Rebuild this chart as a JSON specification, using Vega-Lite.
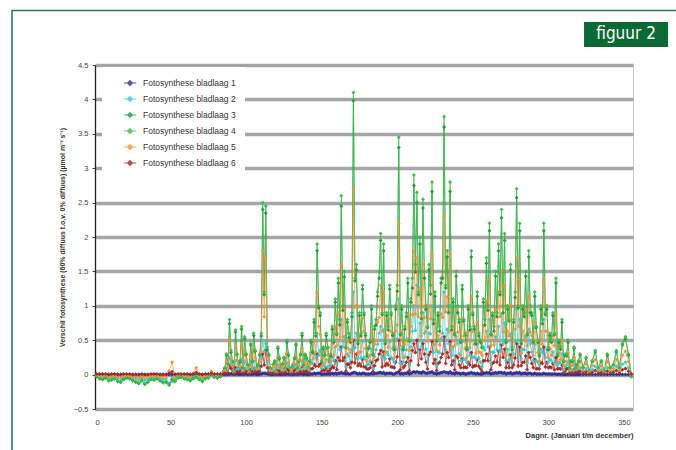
{
  "$schema": "https://vega.github.io/schema/vega-lite/v6.json",
  "width": 538,
  "height": 344,
  "autosize": {"type": "none"},
  "padding": {"left": 95, "top": 65, "right": 43, "bottom": 41},
  "background": "white",
  "config": {
    "view": {"stroke": "#c8c8c8", "strokeWidth": 1},
    "font": "Liberation Sans",
    "axisY": {"labelOverlap": false, "labelFlush": false}
  },
  "datasets": {
    "foto": [
      {"d":1,"1":0,"2":-0.01,"3":-0.03,"4":-0.02,"5":0,"6":0.01},
      {"d":3,"1":0,"2":-0.03,"3":-0.06,"4":-0.05,"5":-0.02,"6":0.01},
      {"d":5,"1":0,"2":-0.04,"3":-0.07,"4":-0.06,"5":-0.02,"6":0.01},
      {"d":7,"1":0,"2":-0.02,"3":-0.05,"4":-0.04,"5":-0.01,"6":0.01},
      {"d":9,"1":0,"2":-0.05,"3":-0.09,"4":-0.08,"5":-0.03,"6":0},
      {"d":11,"1":0,"2":-0.04,"3":-0.08,"4":-0.07,"5":-0.02,"6":0.01},
      {"d":13,"1":0,"2":-0.03,"3":-0.06,"4":-0.05,"5":-0.02,"6":0.01},
      {"d":15,"1":0,"2":-0.05,"3":-0.1,"4":-0.09,"5":-0.03,"6":0},
      {"d":17,"1":0,"2":-0.06,"3":-0.11,"4":-0.1,"5":-0.03,"6":0},
      {"d":19,"1":0,"2":-0.04,"3":-0.07,"4":-0.06,"5":-0.02,"6":0.01},
      {"d":21,"1":0,"2":-0.02,"3":-0.05,"4":-0.04,"5":-0.01,"6":0.01},
      {"d":23,"1":0,"2":-0.03,"3":-0.06,"4":-0.05,"5":-0.02,"6":0.01},
      {"d":25,"1":0,"2":-0.05,"3":-0.09,"4":-0.08,"5":-0.03,"6":0},
      {"d":27,"1":0,"2":-0.06,"3":-0.11,"4":-0.1,"5":-0.03,"6":0},
      {"d":29,"1":0,"2":-0.07,"3":-0.13,"4":-0.12,"5":-0.04,"6":0},
      {"d":31,"1":0,"2":-0.05,"3":-0.09,"4":-0.08,"5":-0.03,"6":0.01},
      {"d":33,"1":0,"2":-0.08,"3":-0.14,"4":-0.13,"5":-0.04,"6":0},
      {"d":35,"1":0,"2":-0.06,"3":-0.11,"4":-0.1,"5":-0.03,"6":0},
      {"d":37,"1":0,"2":-0.04,"3":-0.07,"4":-0.06,"5":-0.02,"6":0.01},
      {"d":39,"1":0,"2":-0.04,"3":-0.08,"4":-0.07,"5":-0.02,"6":0.01},
      {"d":41,"1":0,"2":-0.03,"3":-0.06,"4":-0.05,"5":-0.02,"6":0.01},
      {"d":43,"1":0,"2":-0.05,"3":-0.09,"4":-0.08,"5":-0.03,"6":0},
      {"d":45,"1":0,"2":-0.07,"3":-0.12,"4":-0.11,"5":-0.03,"6":0},
      {"d":47,"1":0,"2":-0.06,"3":-0.11,"4":-0.1,"5":-0.03,"6":0},
      {"d":49,"1":0,"2":-0.13,"3":-0.15,"4":-0.14,"5":0.05,"6":0.02},
      {"d":51,"1":0,"2":-0.1,"3":-0.07,"4":-0.06,"5":0.18,"6":0.04},
      {"d":53,"1":0,"2":-0.05,"3":-0.1,"4":-0.09,"5":-0.03,"6":0},
      {"d":55,"1":0,"2":-0.02,"3":-0.05,"4":-0.04,"5":-0.01,"6":0.01},
      {"d":57,"1":0,"2":-0.02,"3":-0.04,"4":-0.03,"5":0,"6":0.01},
      {"d":59,"1":0,"2":-0.03,"3":-0.06,"4":-0.05,"5":-0.02,"6":0.01},
      {"d":61,"1":0,"2":-0.04,"3":-0.07,"4":-0.06,"5":-0.02,"6":0.01},
      {"d":63,"1":0,"2":-0.05,"3":-0.09,"4":-0.08,"5":-0.03,"6":0},
      {"d":65,"1":0,"2":-0.03,"3":-0.06,"4":-0.05,"5":0.02,"6":0.01},
      {"d":67,"1":0,"2":-0.02,"3":-0.04,"4":-0.03,"5":0.1,"6":0.03},
      {"d":69,"1":0,"2":-0.04,"3":-0.07,"4":-0.06,"5":-0.02,"6":0.01},
      {"d":71,"1":0,"2":-0.05,"3":-0.1,"4":-0.09,"5":-0.03,"6":0},
      {"d":73,"1":0,"2":-0.03,"3":-0.06,"4":-0.05,"5":-0.02,"6":0.01},
      {"d":75,"1":0,"2":-0.02,"3":-0.05,"4":-0.04,"5":-0.01,"6":0.01},
      {"d":77,"1":0,"2":0.01,"3":0.02,"4":0.02,"5":0.05,"6":0.02},
      {"d":79,"1":0,"2":-0.02,"3":-0.04,"4":-0.03,"5":0,"6":0.01},
      {"d":81,"1":0,"2":-0.02,"3":-0.05,"4":-0.04,"5":-0.01,"6":0.01},
      {"d":83,"1":0,"2":-0.01,"3":-0.03,"4":-0.02,"5":0.01,"6":0.01},
      {"d":85,"1":0,"2":0.02,"3":0.05,"4":0.05,"5":0.04,"6":0.02},
      {"d":87,"1":0.01,"2":0.1,"3":0.28,"4":0.3,"5":0.19,"6":0.05},
      {"d":89,"1":0.01,"2":0.25,"3":0.74,"4":0.8,"5":0.5,"6":0.12},
      {"d":91,"1":0.01,"2":0.07,"3":0.19,"4":0.2,"5":0.13,"6":0.03},
      {"d":93,"1":0.01,"2":0.2,"3":0.62,"4":0.65,"5":0.42,"6":0.1},
      {"d":95,"1":0,"2":0.03,"3":0.1,"4":0.1,"5":0.07,"6":0.02},
      {"d":97,"1":0.01,"2":0.22,"3":0.66,"4":0.7,"5":0.45,"6":0.1},
      {"d":99,"1":0.01,"2":0.18,"3":0.52,"4":0.55,"5":0.35,"6":0.08},
      {"d":101,"1":0,"2":0.05,"3":0.14,"4":0.15,"5":0.1,"6":0.03},
      {"d":103,"1":0.01,"2":0.15,"3":0.43,"4":0.45,"5":0.28,"6":0.07},
      {"d":105,"1":0.01,"2":0.2,"3":0.57,"4":0.6,"5":0.38,"6":0.09},
      {"d":107,"1":0,"2":0.04,"3":0.1,"4":0.1,"5":0.07,"6":0.02},
      {"d":109,"1":0.01,"2":0.1,"3":0.28,"4":0.3,"5":0.2,"6":0.05},
      {"d":111,"1":0.02,"2":0.5,"3":2.4,"4":2.5,"5":1.8,"6":0.3},
      {"d":113,"1":0.02,"2":0.45,"3":2.35,"4":2.45,"5":1.7,"6":0.35},
      {"d":115,"1":0.01,"2":0.1,"3":0.28,"4":0.3,"5":0.2,"6":0.05},
      {"d":117,"1":0,"2":0.02,"3":0.05,"4":0.05,"5":0.04,"6":0.01},
      {"d":119,"1":0.01,"2":0.07,"3":0.19,"4":0.2,"5":0.13,"6":0.03},
      {"d":121,"1":0.01,"2":0.14,"3":0.38,"4":0.4,"5":0.25,"6":0.06},
      {"d":123,"1":0,"2":0.04,"3":0.1,"4":0.1,"5":0.07,"6":0.02},
      {"d":125,"1":0.01,"2":0.09,"3":0.24,"4":0.25,"5":0.16,"6":0.04},
      {"d":127,"1":0.01,"2":0.17,"3":0.47,"4":0.5,"5":0.31,"6":0.08},
      {"d":129,"1":0,"2":0.02,"3":0.05,"4":0.05,"5":0.03,"6":0.01},
      {"d":131,"1":0,"2":0.05,"3":0.14,"4":0.15,"5":0.1,"6":0.03},
      {"d":133,"1":0.01,"2":0.15,"3":0.43,"4":0.45,"5":0.28,"6":0.07},
      {"d":135,"1":0.01,"2":0.07,"3":0.19,"4":0.2,"5":0.13,"6":0.03},
      {"d":137,"1":0.01,"2":0.2,"3":0.57,"4":0.6,"5":0.38,"6":0.1},
      {"d":139,"1":0.01,"2":0.1,"3":0.28,"4":0.3,"5":0.19,"6":0.05},
      {"d":141,"1":0,"2":0.04,"3":0.1,"4":0.1,"5":0.07,"6":0.02},
      {"d":143,"1":0.01,"2":0.17,"3":0.47,"4":0.5,"5":0.32,"6":0.08},
      {"d":145,"1":0.02,"2":0.3,"3":0.76,"4":0.8,"5":0.5,"6":0.15},
      {"d":147,"1":0.02,"2":0.6,"3":1.8,"4":1.9,"5":1.2,"6":0.3},
      {"d":149,"1":0.02,"2":0.35,"3":0.86,"4":0.9,"5":0.58,"6":0.15},
      {"d":151,"1":0.01,"2":0.14,"3":0.38,"4":0.4,"5":0.25,"6":0.07},
      {"d":153,"1":0.01,"2":0.22,"3":0.57,"4":0.6,"5":0.38,"6":0.1},
      {"d":155,"1":0.01,"2":0.07,"3":0.19,"4":0.2,"5":0.13,"6":0.04},
      {"d":157,"1":0.02,"2":0.25,"3":0.66,"4":0.7,"5":0.44,"6":0.12},
      {"d":159,"1":0.02,"2":0.4,"3":1.05,"4":1.1,"5":0.7,"6":0.2},
      {"d":161,"1":0.02,"2":0.5,"3":1.33,"4":1.4,"5":0.9,"6":0.25},
      {"d":163,"1":0.03,"2":0.8,"3":2.45,"4":2.6,"5":1.6,"6":0.4},
      {"d":165,"1":0.02,"2":0.55,"3":1.42,"4":1.5,"5":0.95,"6":0.25},
      {"d":167,"1":0.02,"2":0.3,"3":0.76,"4":0.8,"5":0.5,"6":0.15},
      {"d":169,"1":0.01,"2":0.18,"3":0.47,"4":0.5,"5":0.32,"6":0.1},
      {"d":171,"1":0.03,"2":1.2,"3":3.98,"4":4.1,"5":2.7,"6":0.5},
      {"d":173,"1":0.02,"2":0.6,"3":1.52,"4":1.6,"5":1.0,"6":0.3},
      {"d":175,"1":0.02,"2":0.33,"3":0.86,"4":0.9,"5":0.57,"6":0.16},
      {"d":177,"1":0.02,"2":0.48,"3":1.24,"4":1.3,"5":0.82,"6":0.22},
      {"d":179,"1":0.01,"2":0.22,"3":0.57,"4":0.6,"5":0.38,"6":0.11},
      {"d":181,"1":0.01,"2":0.15,"3":0.38,"4":0.4,"5":0.25,"6":0.08},
      {"d":183,"1":0.02,"2":0.37,"3":0.95,"4":1.0,"5":0.63,"6":0.18},
      {"d":185,"1":0.02,"2":0.26,"3":0.66,"4":0.7,"5":0.44,"6":0.13},
      {"d":187,"1":0.02,"2":0.44,"3":1.14,"4":1.2,"5":0.76,"6":0.22},
      {"d":189,"1":0.03,"2":0.7,"3":1.95,"4":2.05,"5":1.3,"6":0.35},
      {"d":191,"1":0.03,"2":0.65,"3":1.8,"4":1.9,"5":1.2,"6":0.33},
      {"d":193,"1":0.02,"2":0.33,"3":0.86,"4":0.9,"5":0.57,"6":0.16},
      {"d":195,"1":0.02,"2":0.48,"3":1.24,"4":1.3,"5":0.82,"6":0.23},
      {"d":197,"1":0.01,"2":0.22,"3":0.57,"4":0.6,"5":0.38,"6":0.11},
      {"d":199,"1":0.02,"2":0.37,"3":0.95,"4":1.0,"5":0.63,"6":0.18},
      {"d":201,"1":0.04,"2":1.1,"3":3.3,"4":3.45,"5":2.2,"6":0.5},
      {"d":203,"1":0.02,"2":0.37,"3":0.95,"4":1.0,"5":0.63,"6":0.18},
      {"d":205,"1":0.02,"2":0.26,"3":0.66,"4":0.7,"5":0.44,"6":0.13},
      {"d":207,"1":0.03,"2":0.52,"3":1.33,"4":1.4,"5":0.88,"6":0.25},
      {"d":209,"1":0.02,"2":0.4,"3":1.05,"4":1.1,"5":0.7,"6":0.2},
      {"d":211,"1":0.04,"2":1.0,"3":2.75,"4":2.9,"5":1.8,"6":0.45},
      {"d":213,"1":0.04,"2":1.3,"3":2.5,"4":2.65,"5":1.7,"6":0.5},
      {"d":215,"1":0.03,"2":0.75,"3":1.9,"4":2.0,"5":1.26,"6":0.36},
      {"d":217,"1":0.04,"2":0.9,"3":2.42,"4":2.55,"5":1.6,"6":0.45},
      {"d":219,"1":0.02,"2":0.37,"3":0.95,"4":1.0,"5":0.63,"6":0.18},
      {"d":221,"1":0.03,"2":0.6,"3":1.52,"4":1.6,"5":1.0,"6":0.29},
      {"d":223,"1":0.04,"2":1.0,"3":2.66,"4":2.8,"5":1.76,"6":0.48},
      {"d":225,"1":0.02,"2":0.44,"3":1.14,"4":1.2,"5":0.76,"6":0.22},
      {"d":227,"1":0.02,"2":0.33,"3":0.86,"4":0.9,"5":0.57,"6":0.16},
      {"d":229,"1":0.03,"2":0.52,"3":1.33,"4":1.4,"5":0.88,"6":0.25},
      {"d":231,"1":0.04,"2":1.2,"3":3.6,"4":3.75,"5":2.3,"6":0.55},
      {"d":233,"1":0.03,"2":0.66,"3":1.71,"4":1.8,"5":1.13,"6":0.32},
      {"d":235,"1":0.04,"2":1.0,"3":2.66,"4":2.8,"5":1.76,"6":0.48},
      {"d":237,"1":0.02,"2":0.4,"3":1.05,"4":1.1,"5":0.7,"6":0.2},
      {"d":239,"1":0.03,"2":0.55,"3":1.43,"4":1.5,"5":0.95,"6":0.27},
      {"d":241,"1":0.02,"2":0.3,"3":0.76,"4":0.8,"5":0.5,"6":0.14},
      {"d":243,"1":0.02,"2":0.48,"3":1.24,"4":1.3,"5":0.82,"6":0.23},
      {"d":245,"1":0.01,"2":0.22,"3":0.57,"4":0.6,"5":0.38,"6":0.11},
      {"d":247,"1":0.02,"2":0.37,"3":0.95,"4":1.0,"5":0.63,"6":0.18},
      {"d":249,"1":0.03,"2":0.66,"3":1.71,"4":1.8,"5":1.13,"6":0.32},
      {"d":251,"1":0.02,"2":0.26,"3":0.66,"4":0.7,"5":0.44,"6":0.13},
      {"d":253,"1":0.02,"2":0.44,"3":1.14,"4":1.2,"5":0.76,"6":0.22},
      {"d":255,"1":0.01,"2":0.18,"3":0.47,"4":0.5,"5":0.32,"6":0.09},
      {"d":257,"1":0.02,"2":0.4,"3":1.05,"4":1.1,"5":0.7,"6":0.2},
      {"d":259,"1":0.03,"2":0.63,"3":1.62,"4":1.7,"5":1.07,"6":0.3},
      {"d":261,"1":0.03,"2":0.8,"3":2.09,"4":2.2,"5":1.39,"6":0.4},
      {"d":263,"1":0.02,"2":0.33,"3":0.86,"4":0.9,"5":0.57,"6":0.16},
      {"d":265,"1":0.03,"2":0.55,"3":1.43,"4":1.5,"5":0.95,"6":0.27},
      {"d":267,"1":0.03,"2":0.7,"3":1.8,"4":1.9,"5":1.2,"6":0.34},
      {"d":269,"1":0.03,"2":0.88,"3":2.28,"4":2.4,"5":1.51,"6":0.43},
      {"d":271,"1":0.03,"2":0.75,"3":1.95,"4":2.05,"5":1.29,"6":0.37},
      {"d":273,"1":0.02,"2":0.37,"3":0.95,"4":1.0,"5":0.63,"6":0.18},
      {"d":275,"1":0.03,"2":0.59,"3":1.52,"4":1.6,"5":1.01,"6":0.29},
      {"d":277,"1":0.02,"2":0.3,"3":0.76,"4":0.8,"5":0.5,"6":0.14},
      {"d":279,"1":0.03,"2":0.95,"3":2.57,"4":2.7,"5":1.7,"6":0.45},
      {"d":281,"1":0.03,"2":0.8,"3":2.09,"4":2.2,"5":1.39,"6":0.4},
      {"d":283,"1":0.02,"2":0.37,"3":0.95,"4":1.0,"5":0.63,"6":0.18},
      {"d":285,"1":0.02,"2":0.55,"3":1.43,"4":1.5,"5":0.95,"6":0.27},
      {"d":287,"1":0.02,"2":0.66,"3":1.71,"4":1.8,"5":1.13,"6":0.32},
      {"d":289,"1":0.01,"2":0.33,"3":0.86,"4":0.9,"5":0.57,"6":0.16},
      {"d":291,"1":0.02,"2":0.44,"3":1.14,"4":1.2,"5":0.76,"6":0.22},
      {"d":293,"1":0.01,"2":0.18,"3":0.47,"4":0.5,"5":0.32,"6":0.09},
      {"d":295,"1":0.01,"2":0.37,"3":0.95,"4":1.0,"5":0.63,"6":0.18},
      {"d":297,"1":0.02,"2":0.8,"3":2.09,"4":2.2,"5":1.39,"6":0.4},
      {"d":299,"1":0.01,"2":0.37,"3":0.95,"4":1.0,"5":0.63,"6":0.18},
      {"d":301,"1":0.01,"2":0.22,"3":0.57,"4":0.6,"5":0.38,"6":0.11},
      {"d":303,"1":0.01,"2":0.33,"3":0.86,"4":0.9,"5":0.57,"6":0.16},
      {"d":305,"1":0.01,"2":0.5,"3":1.33,"4":1.4,"5":0.88,"6":0.25},
      {"d":307,"1":0.01,"2":0.18,"3":0.47,"4":0.5,"5":0.32,"6":0.09},
      {"d":309,"1":0.01,"2":0.3,"3":0.76,"4":0.8,"5":0.5,"6":0.14},
      {"d":311,"1":0,"2":0.11,"3":0.28,"4":0.3,"5":0.19,"6":0.05},
      {"d":313,"1":0.01,"2":0.18,"3":0.47,"4":0.5,"5":0.32,"6":0.09},
      {"d":315,"1":0,"2":0.07,"3":0.19,"4":0.2,"5":0.13,"6":0.04},
      {"d":317,"1":0,"2":0.15,"3":0.38,"4":0.4,"5":0.25,"6":0.07},
      {"d":319,"1":0,"2":0.05,"3":0.14,"4":0.15,"5":0.09,"6":0.03},
      {"d":321,"1":0,"2":0.1,"3":0.28,"4":0.3,"5":0.19,"6":0.05},
      {"d":323,"1":0,"2":0.04,"3":0.1,"4":0.1,"5":0.06,"6":0.02},
      {"d":325,"1":0,"2":0.09,"3":0.24,"4":0.25,"5":0.16,"6":0.04},
      {"d":327,"1":0,"2":0.02,"3":0.05,"4":0.05,"5":0.03,"6":0.01},
      {"d":329,"1":0,"2":0.07,"3":0.19,"4":0.2,"5":0.13,"6":0.03},
      {"d":331,"1":0,"2":0.12,"3":0.33,"4":0.35,"5":0.22,"6":0.06},
      {"d":333,"1":0,"2":0.04,"3":0.1,"4":0.1,"5":0.06,"6":0.02},
      {"d":335,"1":0,"2":0.07,"3":0.19,"4":0.2,"5":0.13,"6":0.03},
      {"d":337,"1":0,"2":0.02,"3":0.05,"4":0.05,"5":0.03,"6":0.01},
      {"d":339,"1":0,"2":0.1,"3":0.28,"4":0.3,"5":0.19,"6":0.05},
      {"d":341,"1":0,"2":0.04,"3":0.1,"4":0.1,"5":0.06,"6":0.02},
      {"d":343,"1":0,"2":0.05,"3":0.14,"4":0.15,"5":0.09,"6":0.03},
      {"d":345,"1":0,"2":0.12,"3":0.33,"4":0.35,"5":0.22,"6":0.06},
      {"d":347,"1":0,"2":0.04,"3":0.1,"4":0.1,"5":0.06,"6":0.02},
      {"d":349,"1":0,"2":0.15,"3":0.43,"4":0.45,"5":0.28,"6":0.07},
      {"d":351,"1":0,"2":0.18,"3":0.52,"4":0.55,"5":0.34,"6":0.09},
      {"d":353,"1":0,"2":0.1,"3":0.28,"4":0.3,"5":0.19,"6":0.05},
      {"d":355,"1":0,"2":0,"3":-0.03,"4":-0.02,"5":0,"6":0.01},
      {"d":86,"1":0,"2":0.04,"3":0.09,"4":0.1,"5":0.06,"6":0.02},
      {"d":88,"1":0,"2":0.04,"3":0.15,"4":0.15,"5":0.11,"6":0.02},
      {"d":90,"1":0.01,"2":0.16,"3":0.32,"4":0.35,"5":0.22,"6":0.09},
      {"d":92,"1":0,"2":0.02,"3":0.05,"4":0.05,"5":0.03,"6":0.01},
      {"d":94,"1":0.01,"2":0.08,"3":0.29,"4":0.3,"5":0.21,"6":0.04},
      {"d":96,"1":0,"2":0.09,"3":0.18,"4":0.2,"5":0.12,"6":0.05},
      {"d":98,"1":0,"2":0.04,"3":0.09,"4":0.1,"5":0.06,"6":0.02},
      {"d":100,"1":0.01,"2":0.08,"3":0.29,"4":0.3,"5":0.21,"6":0.04},
      {"d":102,"1":0,"2":0.02,"3":0.05,"4":0.05,"5":0.03,"6":0.01},
      {"d":104,"1":0,"2":0.08,"3":0.19,"4":0.2,"5":0.11,"6":0.04},
      {"d":106,"1":0.01,"2":0.1,"3":0.34,"4":0.35,"5":0.25,"6":0.04},
      {"d":108,"1":0,"2":0.07,"3":0.14,"4":0.15,"5":0.09,"6":0.04},
      {"d":110,"1":0.01,"2":0.24,"3":0.56,"4":0.6,"5":0.33,"6":0.12},
      {"d":112,"1":0.02,"2":0.34,"3":1.16,"4":1.2,"5":0.84,"6":0.14},
      {"d":114,"1":0.01,"2":0.18,"3":0.36,"4":0.4,"5":0.25,"6":0.1},
      {"d":116,"1":0,"2":0.04,"3":0.09,"4":0.1,"5":0.06,"6":0.02},
      {"d":118,"1":0,"2":0.04,"3":0.15,"4":0.15,"5":0.11,"6":0.02},
      {"d":120,"1":0,"2":0.02,"3":0.05,"4":0.05,"5":0.03,"6":0.01},
      {"d":122,"1":0,"2":0.1,"3":0.23,"4":0.25,"5":0.14,"6":0.05},
      {"d":124,"1":0,"2":0.04,"3":0.15,"4":0.15,"5":0.11,"6":0.02},
      {"d":126,"1":0,"2":0.05,"3":0.09,"4":0.1,"5":0.06,"6":0.03},
      {"d":128,"1":0.01,"2":0.12,"3":0.28,"4":0.3,"5":0.17,"6":0.06},
      {"d":130,"1":0,"2":0.03,"3":0.1,"4":0.1,"5":0.07,"6":0.01},
      {"d":132,"1":0,"2":0.11,"3":0.23,"4":0.25,"5":0.16,"6":0.06},
      {"d":134,"1":0,"2":0.04,"3":0.09,"4":0.1,"5":0.06,"6":0.02},
      {"d":136,"1":0.01,"2":0.08,"3":0.29,"4":0.3,"5":0.21,"6":0.04},
      {"d":138,"1":0,"2":0.07,"3":0.14,"4":0.15,"5":0.09,"6":0.04},
      {"d":140,"1":0,"2":0.1,"3":0.23,"4":0.25,"5":0.14,"6":0.05},
      {"d":142,"1":0,"2":0.06,"3":0.19,"4":0.2,"5":0.14,"6":0.02},
      {"d":144,"1":0.01,"2":0.16,"3":0.32,"4":0.35,"5":0.22,"6":0.09},
      {"d":146,"1":0.01,"2":0.24,"3":0.56,"4":0.6,"5":0.33,"6":0.12},
      {"d":148,"1":0.02,"2":0.28,"3":0.97,"4":1.0,"5":0.7,"6":0.12},
      {"d":150,"1":0,"2":0.09,"3":0.18,"4":0.2,"5":0.12,"6":0.05},
      {"d":152,"1":0.01,"2":0.12,"3":0.28,"4":0.3,"5":0.17,"6":0.06},
      {"d":154,"1":0.01,"2":0.11,"3":0.39,"4":0.4,"5":0.28,"6":0.05},
      {"d":156,"1":0.01,"2":0.14,"3":0.27,"4":0.3,"5":0.19,"6":0.08},
      {"d":158,"1":0.01,"2":0.2,"3":0.47,"4":0.5,"5":0.28,"6":0.1},
      {"d":160,"1":0.01,"2":0.17,"3":0.58,"4":0.6,"5":0.42,"6":0.07},
      {"d":162,"1":0.02,"2":0.36,"3":0.72,"4":0.8,"5":0.5,"6":0.2},
      {"d":164,"1":0.02,"2":0.4,"3":0.93,"4":1.0,"5":0.55,"6":0.2},
      {"d":166,"1":0.01,"2":0.11,"3":0.39,"4":0.4,"5":0.28,"6":0.05},
      {"d":168,"1":0.01,"2":0.27,"3":0.54,"4":0.6,"5":0.37,"6":0.15},
      {"d":170,"1":0.02,"2":0.36,"3":0.84,"4":0.9,"5":0.5,"6":0.18},
      {"d":172,"1":0.03,"2":0.39,"3":1.36,"4":1.4,"5":0.98,"6":0.17},
      {"d":174,"1":0.01,"2":0.23,"3":0.45,"4":0.5,"5":0.31,"6":0.13},
      {"d":176,"1":0.01,"2":0.24,"3":0.56,"4":0.6,"5":0.33,"6":0.12},
      {"d":178,"1":0.02,"2":0.25,"3":0.87,"4":0.9,"5":0.63,"6":0.11},
      {"d":180,"1":0.01,"2":0.14,"3":0.27,"4":0.3,"5":0.19,"6":0.08},
      {"d":182,"1":0.01,"2":0.2,"3":0.47,"4":0.5,"5":0.28,"6":0.1},
      {"d":184,"1":0.01,"2":0.08,"3":0.29,"4":0.3,"5":0.21,"6":0.04},
      {"d":186,"1":0.02,"2":0.36,"3":0.72,"4":0.8,"5":0.5,"6":0.2},
      {"d":188,"1":0.03,"2":0.6,"3":1.4,"4":1.5,"5":0.83,"6":0.3},
      {"d":190,"1":0.02,"2":0.25,"3":0.87,"4":0.9,"5":0.63,"6":0.11},
      {"d":192,"1":0.01,"2":0.23,"3":0.45,"4":0.5,"5":0.31,"6":0.13},
      {"d":194,"1":0.02,"2":0.28,"3":0.65,"4":0.7,"5":0.39,"6":0.14},
      {"d":196,"1":0.02,"2":0.25,"3":0.87,"4":0.9,"5":0.63,"6":0.11},
      {"d":198,"1":0.01,"2":0.18,"3":0.36,"4":0.4,"5":0.25,"6":0.1},
      {"d":200,"1":0.03,"2":0.52,"3":1.21,"4":1.3,"5":0.72,"6":0.26},
      {"d":202,"1":0.01,"2":0.17,"3":0.58,"4":0.6,"5":0.42,"6":0.07},
      {"d":204,"1":0.01,"2":0.18,"3":0.36,"4":0.4,"5":0.25,"6":0.1},
      {"d":206,"1":0.02,"2":0.36,"3":0.84,"4":0.9,"5":0.5,"6":0.18},
      {"d":208,"1":0.01,"2":0.14,"3":0.49,"4":0.5,"5":0.35,"6":0.06},
      {"d":210,"1":0.03,"2":0.63,"3":1.26,"4":1.4,"5":0.87,"6":0.35},
      {"d":212,"1":0.03,"2":0.64,"3":1.49,"4":1.6,"5":0.88,"6":0.32},
      {"d":214,"1":0.03,"2":0.34,"3":1.16,"4":1.2,"5":0.84,"6":0.14},
      {"d":216,"1":0.02,"2":0.41,"3":0.81,"4":0.9,"5":0.56,"6":0.23},
      {"d":218,"1":0.03,"2":0.6,"3":1.4,"4":1.5,"5":0.83,"6":0.3},
      {"d":220,"1":0.02,"2":0.2,"3":0.68,"4":0.7,"5":0.49,"6":0.08},
      {"d":222,"1":0.03,"2":0.59,"3":1.17,"4":1.3,"5":0.81,"6":0.33},
      {"d":224,"1":0.02,"2":0.32,"3":0.74,"4":0.8,"5":0.44,"6":0.16},
      {"d":226,"1":0.01,"2":0.14,"3":0.49,"4":0.5,"5":0.35,"6":0.06},
      {"d":228,"1":0.02,"2":0.32,"3":0.63,"4":0.7,"5":0.43,"6":0.18},
      {"d":230,"1":0.03,"2":0.6,"3":1.4,"4":1.5,"5":0.83,"6":0.3},
      {"d":232,"1":0.03,"2":0.36,"3":1.26,"4":1.3,"5":0.91,"6":0.16},
      {"d":234,"1":0.02,"2":0.45,"3":0.9,"4":1.0,"5":0.62,"6":0.25},
      {"d":236,"1":0.02,"2":0.28,"3":0.65,"4":0.7,"5":0.39,"6":0.14},
      {"d":238,"1":0.01,"2":0.17,"3":0.58,"4":0.6,"5":0.42,"6":0.07},
      {"d":240,"1":0.02,"2":0.45,"3":0.9,"4":1.0,"5":0.62,"6":0.25},
      {"d":242,"1":0.01,"2":0.2,"3":0.47,"4":0.5,"5":0.28,"6":0.1},
      {"d":244,"1":0.02,"2":0.22,"3":0.78,"4":0.8,"5":0.56,"6":0.1},
      {"d":246,"1":0.01,"2":0.18,"3":0.36,"4":0.4,"5":0.25,"6":0.1},
      {"d":248,"1":0.02,"2":0.28,"3":0.65,"4":0.7,"5":0.39,"6":0.14},
      {"d":250,"1":0.02,"2":0.25,"3":0.87,"4":0.9,"5":0.63,"6":0.11},
      {"d":252,"1":0.01,"2":0.23,"3":0.45,"4":0.5,"5":0.31,"6":0.13},
      {"d":254,"1":0.01,"2":0.24,"3":0.56,"4":0.6,"5":0.33,"6":0.12},
      {"d":256,"1":0.01,"2":0.11,"3":0.39,"4":0.4,"5":0.28,"6":0.05},
      {"d":258,"1":0.02,"2":0.36,"3":0.72,"4":0.8,"5":0.5,"6":0.2},
      {"d":260,"1":0.02,"2":0.4,"3":0.93,"4":1.0,"5":0.55,"6":0.2},
      {"d":262,"1":0.01,"2":0.17,"3":0.58,"4":0.6,"5":0.42,"6":0.07},
      {"d":264,"1":0.02,"2":0.32,"3":0.63,"4":0.7,"5":0.43,"6":0.18},
      {"d":266,"1":0.02,"2":0.36,"3":0.84,"4":0.9,"5":0.5,"6":0.18},
      {"d":268,"1":0.03,"2":0.34,"3":1.16,"4":1.2,"5":0.84,"6":0.14},
      {"d":270,"1":0.02,"2":0.45,"3":0.9,"4":1.0,"5":0.62,"6":0.25},
      {"d":272,"1":0.01,"2":0.2,"3":0.47,"4":0.5,"5":0.28,"6":0.1},
      {"d":274,"1":0.02,"2":0.22,"3":0.78,"4":0.8,"5":0.56,"6":0.1},
      {"d":276,"1":0.01,"2":0.18,"3":0.36,"4":0.4,"5":0.25,"6":0.1},
      {"d":278,"1":0.02,"2":0.48,"3":1.12,"4":1.2,"5":0.66,"6":0.24},
      {"d":280,"1":0.02,"2":0.28,"3":0.97,"4":1.0,"5":0.7,"6":0.12},
      {"d":282,"1":0.01,"2":0.23,"3":0.45,"4":0.5,"5":0.31,"6":0.13},
      {"d":284,"1":0.02,"2":0.36,"3":0.84,"4":0.9,"5":0.5,"6":0.18},
      {"d":286,"1":0.01,"2":0.17,"3":0.58,"4":0.6,"5":0.42,"6":0.07},
      {"d":288,"1":0.02,"2":0.45,"3":0.9,"4":1.0,"5":0.62,"6":0.25},
      {"d":290,"1":0.01,"2":0.2,"3":0.47,"4":0.5,"5":0.28,"6":0.1},
      {"d":292,"1":0.01,"2":0.2,"3":0.68,"4":0.7,"5":0.49,"6":0.08},
      {"d":294,"1":0.01,"2":0.14,"3":0.27,"4":0.3,"5":0.19,"6":0.08},
      {"d":296,"1":0.01,"2":0.32,"3":0.74,"4":0.8,"5":0.44,"6":0.16},
      {"d":298,"1":0.01,"2":0.25,"3":0.87,"4":0.9,"5":0.63,"6":0.11},
      {"d":300,"1":0.01,"2":0.18,"3":0.36,"4":0.4,"5":0.25,"6":0.1},
      {"d":302,"1":0.01,"2":0.2,"3":0.47,"4":0.5,"5":0.28,"6":0.1},
      {"d":304,"1":0.01,"2":0.17,"3":0.58,"4":0.6,"5":0.42,"6":0.07},
      {"d":306,"1":0,"2":0.14,"3":0.27,"4":0.3,"5":0.19,"6":0.08},
      {"d":308,"1":0,"2":0.16,"3":0.37,"4":0.4,"5":0.22,"6":0.08},
      {"d":310,"1":0,"2":0.06,"3":0.19,"4":0.2,"5":0.14,"6":0.02},
      {"d":312,"1":0,"2":0.14,"3":0.27,"4":0.3,"5":0.19,"6":0.08},
      {"d":314,"1":0,"2":0.04,"3":0.09,"4":0.1,"5":0.06,"6":0.02},
      {"d":316,"1":0,"2":0.06,"3":0.19,"4":0.2,"5":0.14,"6":0.02},
      {"d":318,"1":0,"2":0.05,"3":0.09,"4":0.1,"5":0.06,"6":0.03},
      {"d":320,"1":0,"2":0.08,"3":0.19,"4":0.2,"5":0.11,"6":0.04}
    ]
  },
  "layer": [
    {
      "data": {"values": [{}]},
      "mark": {"type": "rect", "filled": false, "stroke": "#2b7d4b", "strokeWidth": 1.6, "clip": false},
      "encoding": {
        "x": {"datum": -54.9, "type": "quantitative"},
        "x2": {"datum": 500},
        "y": {"datum": 5.292, "type": "quantitative"},
        "y2": {"datum": -3}
      }
    },
    {
      "data": {"values": [{}]},
      "mark": {"type": "rect", "fill": "#0b6a33", "clip": false},
      "encoding": {
        "x": {"datum": 323.6, "type": "quantitative"},
        "x2": {"datum": 379.2},
        "y": {"datum": 5.125, "type": "quantitative"},
        "y2": {"datum": 4.762}
      }
    },
    {
      "data": {"values": [{"t": "figuur 2"}]},
      "mark": {"type": "text", "color": "white", "font": "DejaVu Sans Condensed, Roboto, sans-serif", "fontSize": 17, "align": "center", "baseline": "middle", "clip": false},
      "encoding": {
        "x": {"datum": 351.4, "type": "quantitative"},
        "y": {"datum": 4.95, "type": "quantitative"},
        "text": {"field": "t"}
      }
    },
    {
      "data": {"name": "foto"},
      "transform": [{"fold": ["1", "2", "3", "4", "5", "6"], "as": ["s", "v"]}],
      "mark": {"type": "line", "strokeWidth": 0.9, "opacity": 0.8},
      "encoding": {
        "x": {
          "field": "d", "type": "quantitative",
          "scale": {"domain": [0, 356], "nice": false, "zero": false},
          "axis": {
            "values": [0, 50, 100, 150, 200, 250, 300, 350],
            "tickCount": 20,
            "grid": false, "domain": false, "ticks": false,
            "labelFontSize": 7.5, "labelColor": "#444", "labelPadding": 9,
            "title": "Dagnr. (Januari t/m december)",
            "titleAnchor": "end", "titleFontSize": 7.5, "titleFontWeight": "bold",
            "titleColor": "#333", "titlePadding": 6
          }
        },
        "y": {
          "field": "v", "type": "quantitative",
          "scale": {"domain": [-0.5, 4.5], "nice": false, "zero": false},
          "axis": {
            "values": [-0.5, 0, 0.5, 1, 1.5, 2, 2.5, 3, 3.5, 4, 4.5],
            "tickCount": 20,
            "format": ".1~f",
            "labelOverlap": false, "labelFlush": false,
            "grid": true, "gridColor": "#a6a6a6", "gridWidth": 3.5,
            "domain": true, "domainColor": "#222", "domainWidth": 1.3,
            "ticks": true, "tickSize": 3, "tickColor": "#444",
            "labelFontSize": 7.5, "labelColor": "#444", "labelPadding": 4,
            "title": "Verschil fotosynthese (60% diffuus t.o.v. 0% diffuus) (µmol m⁻² s⁻¹)",
            "titleFontSize": 7, "titleFontWeight": "bold", "titleColor": "#333", "titlePadding": 8
          }
        },
        "color": {
          "field": "s", "type": "nominal",
          "scale": {"domain": ["1", "2", "3", "4", "5", "6"], "range": ["#2e2e9e", "#3cc8cc", "#1e9a3c", "#3dbb4a", "#f7913a", "#a52a22"]},
          "legend": {
            "orient": "none", "legendX": 7, "legendY": 2,
            "title": null, "fillColor": "white", "padding": 9,
            "symbolType": "M-1,0H1M0,-0.4L0.4,0L0,0.4L-0.4,0Z",
            "symbolSize": 150, "symbolStrokeWidth": 1.2, "symbolOffset": 12,
            "labelFontSize": 8.5, "labelColor": "#333", "labelOffset": 6,
            "rowPadding": 4,
            "labelExpr": "'Fotosynthese bladlaag ' + datum.label"
          }
        }
      }
    },
    {
      "data": {"name": "foto"},
      "transform": [{"fold": ["1", "2", "3", "4", "5", "6"], "as": ["s", "v"]}],
      "mark": {"type": "point", "filled": true, "shape": "diamond", "size": 16, "opacity": 0.95},
      "encoding": {
        "x": {"field": "d", "type": "quantitative"},
        "y": {"field": "v", "type": "quantitative"},
        "color": {"field": "s", "type": "nominal"}
      }
    }
  ]
}
